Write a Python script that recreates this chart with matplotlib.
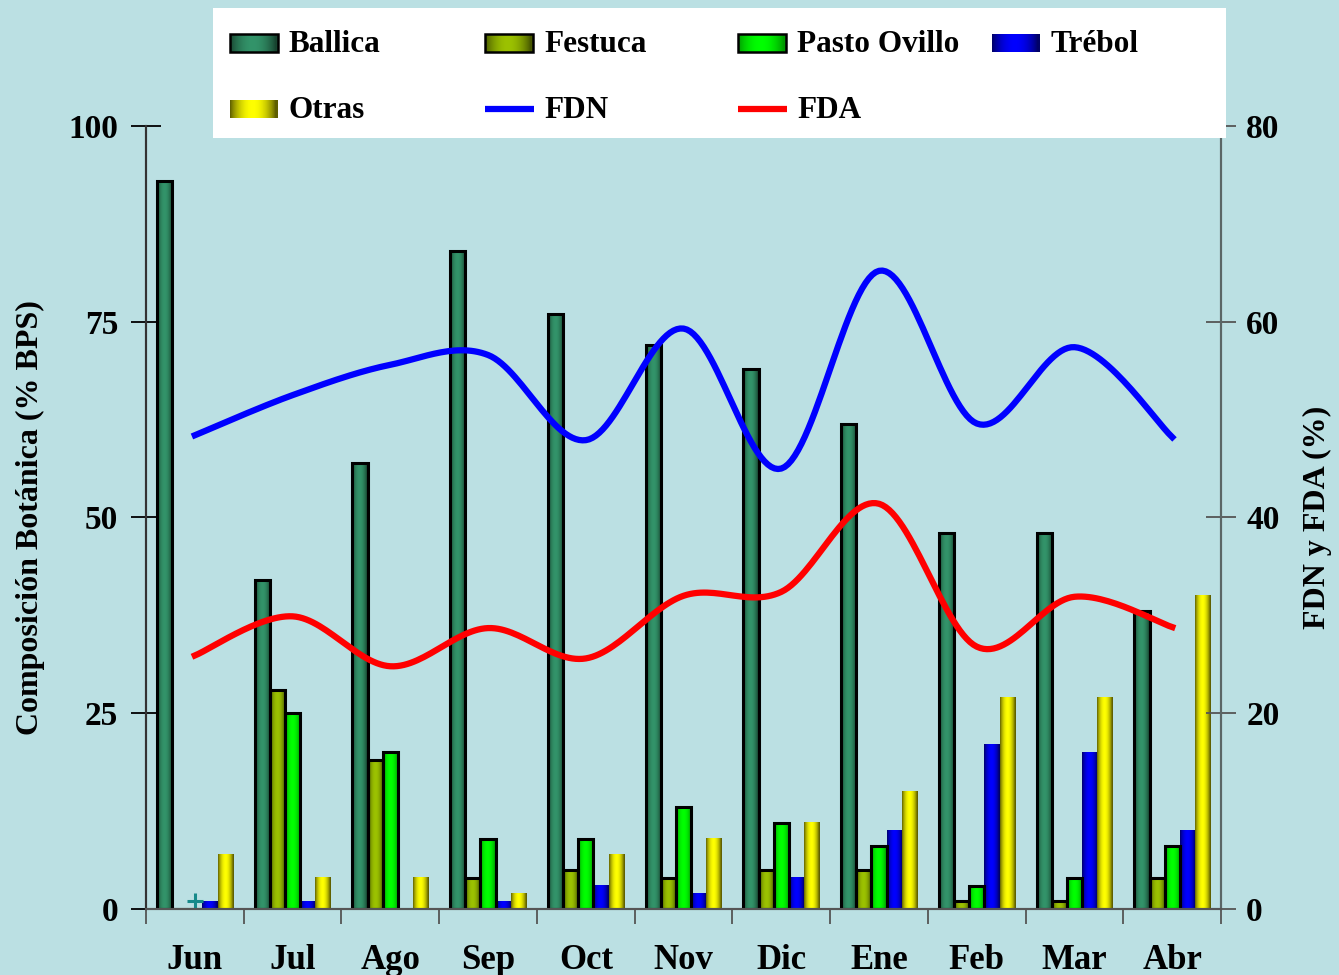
import numpy as np
import matplotlib
matplotlib.use("Agg")
import matplotlib.pyplot as plt
from matplotlib.colors import to_rgb

plt.rcParams["font.family"] = ["Liberation Serif", "DejaVu Serif"]
plt.rcParams["font.weight"] = "bold"

meses = ["Jun", "Jul", "Ago", "Sep", "Oct", "Nov", "Dic", "Ene", "Feb", "Mar", "Abr"]
ballica = [93, 42, 57, 84, 76, 72, 69, 62, 48, 48, 38]
festuca = [0, 28, 19, 4, 5, 4, 5, 5, 1, 1, 4]
pasto_ovillo = [0, 25, 20, 9, 9, 13, 11, 8, 3, 4, 8]
trebol = [1, 1, 0, 1, 3, 2, 4, 10, 21, 20, 10]
otras = [7, 4, 4, 2, 7, 9, 11, 15, 27, 27, 40]
fdn = [48.4, 52.5, 55.6, 56.6, 47.9, 59.3, 45.0, 65.2, 49.6, 57.4, 48.2]
fda = [25.9, 29.9, 24.8, 28.7, 25.6, 32.0, 32.4, 41.4, 26.8, 31.9, 28.8]

bg = "#bbe0e3"
series = [
    ("Ballica", ballica, "#33946a", "#17432f", True),
    ("Festuca", festuca, "#9cc200", "#465600", True),
    ("Pasto Ovillo", pasto_ovillo, "#00ff00", "#009a00", True),
    ("Trébol", trebol, "#0000ff", "#000066", False),
    ("Otras", otras, "#ffff00", "#5e5e00", False),
]


def gradient(light, dark, n=64):
    # cylinder-like shading: dark edges, bright middle
    t = np.linspace(0, 1, n)
    g = np.sin(np.pi * np.clip(t * 1.05, 0, 1)) ** 0.8
    lo, hi = np.array(to_rgb(dark)), np.array(to_rgb(light))
    return (lo + (hi - lo) * g[:, None])[None, :, :]


def smooth(x, y, steps=30):
    # Catmull-Rom through the points, drawn as cubic Bezier segments
    x = np.asarray(x, float)
    y = np.asarray(y, float)
    p = np.column_stack([x, y])
    p = np.vstack([p[0], p, p[-1]])
    out = []
    for i in range(1, len(p) - 2):
        p0, p1, p2, p3 = p[i - 1], p[i], p[i + 1], p[i + 2]
        c1 = p1 + (p2 - p0) / 6
        c2 = p2 - (p3 - p1) / 6
        t = np.linspace(0, 1, steps)[:, None]
        seg = ((1 - t) ** 3) * p1 + 3 * ((1 - t) ** 2) * t * c1 + 3 * (1 - t) * t ** 2 * c2 + t ** 3 * p2
        out.append(seg if i == 1 else seg[1:])
    out = np.vstack(out)
    return out[:, 0], out[:, 1]


fig = plt.figure(figsize=(13.39, 9.75), dpi=100, facecolor=bg)
ax = fig.add_axes([0.109, 0.0677, 0.803, 0.8031], facecolor=bg)
ax2 = ax.twinx()

x = np.arange(len(meses))
w = 0.155
for k, (name, vals, light, dark, edged) in enumerate(series):
    xs = x + (k - 2) * w
    bars = ax.bar(xs, vals, width=w, facecolor="none",
                  edgecolor="black" if edged else "none",
                  linewidth=2.2, zorder=3)
    img = gradient(light, dark)
    for b in bars:
        if b.get_height() <= 0:
            continue
        x0, y0 = b.get_x(), b.get_y()
        ax.imshow(img, extent=[x0, x0 + b.get_width(), y0, y0 + b.get_height()],
                  aspect="auto", zorder=2, interpolation="bilinear")
ax.plot(x[0], trebol[0], marker="+", color="#168a8a", ms=11, mew=2.2, zorder=4)

ax.set_xlim(-0.5, len(meses) - 0.5)
ax.set_ylim(0, 100)
ax.set_yticks([0, 25, 50, 75, 100])
ax.set_xticks(np.arange(len(meses) + 1) - 0.5)
ax.set_xticklabels([])
ax.set_xticks(x, minor=True)
ax.set_xticklabels(meses, minor=True)
ax.tick_params(axis="x", which="major", length=11, width=1.3, color="#555555", direction="out")
ax.tick_params(axis="x", which="minor", length=0, pad=25, labelsize=25)
ax.tick_params(axis="y", length=22, width=1.3, direction="inout", labelsize=24, pad=9)
ax.set_ylabel("Composición Botánica (% BPS)", fontsize=23, fontweight="bold")
ax.yaxis.set_label_coords(-0.094, 0.5)

ax2.plot(*smooth(x, fdn), color="#0000ff", lw=4.5, zorder=5)
ax2.plot(*smooth(x, fda), color="#ff0000", lw=4.5, zorder=5)
ax2.set_ylim(0, 80)
ax2.set_yticks([0, 20, 40, 60, 80])
ax2.tick_params(axis="y", length=22, width=1.3, direction="inout", labelsize=24, pad=7,
                color="#555555")
ax2.set_ylabel("FDN y FDA (%)", fontsize=23, fontweight="bold")
ax2.yaxis.set_label_coords(1.076, 0.5)

for a in (ax, ax2):
    a.spines["top"].set_visible(False)
    a.spines["left"].set_color("#333333")
    a.spines["right"].set_color("#5a6666")
    a.spines["bottom"].set_color("#555555")
    for s in a.spines.values():
        s.set_linewidth(1.5)

# legend panel, laid out in pixel units
lg = fig.add_axes([213 / 1339, 1 - 138 / 975, 1013 / 1339, 130 / 975], facecolor="white")
lg.set_xticks([])
lg.set_yticks([])
for s in lg.spines.values():
    s.set_visible(False)
lg.set_zorder(10)

cols = [17, 272, 525, 779]
rows = [35, 101]
entries = [(s[0], "bar", s[2], s[3], s[4]) for s in series]
entries += [("FDN", "line", "#0000ff", None, False), ("FDA", "line", "#ff0000", None, False)]
for i, (name, kind, light, dark, edged) in enumerate(entries):
    cx = cols[i % 4]
    cy = rows[i // 4]
    if kind == "bar":
        lg.imshow(gradient(light, dark), extent=[cx, cx + 48, cy + 9, cy - 9],
                  aspect="auto", interpolation="bilinear")
        if edged:
            lg.add_patch(plt.Rectangle((cx, cy - 9), 48, 18, fill=False,
                                       edgecolor="black", lw=1.8))
    else:
        lg.plot([cx, cx + 49], [cy, cy], color=light, lw=4.5, solid_capstyle="butt")
    lg.text(cx + 59, cy + 1, name, fontsize=22.5, fontweight="bold", va="center", ha="left")
lg.set_xlim(0, 1013)
lg.set_ylim(130, 0)

fig.savefig("out.png", dpi=100, facecolor=bg)
